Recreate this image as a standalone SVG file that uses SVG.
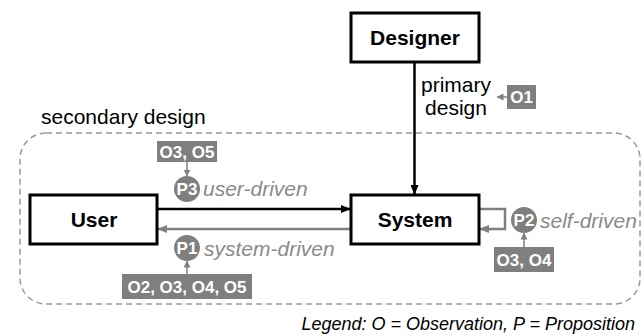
<svg xmlns="http://www.w3.org/2000/svg" width="644" height="336" viewBox="0 0 644 336">
<style>
.box{fill:#fff;stroke:#000;stroke-width:3}
.bt{font-family:"Liberation Sans",Arial,sans-serif;font-weight:bold;font-size:21px;fill:#000;text-anchor:middle}
.rt{font-family:"Liberation Sans",Arial,sans-serif;font-size:21px;fill:#000}
.it{font-family:"Liberation Sans",Arial,sans-serif;font-style:italic;font-size:21px;fill:#8a8a8a}
.tag{fill:#7f7f7f}
.tt{font-family:"Liberation Sans",Arial,sans-serif;font-weight:bold;font-size:17px;fill:#fff;text-anchor:middle}
.pt{font-family:"Liberation Sans",Arial,sans-serif;font-weight:bold;font-size:17px;fill:#fff;text-anchor:middle}
.blk{stroke:#000;stroke-width:2.5;fill:none}
.gry{stroke:#808080;stroke-width:2.5;fill:none}
.thin{stroke:#808080;stroke-width:1.5;fill:none}
</style>
<defs>
<marker id="ab" markerWidth="10" markerHeight="8" refX="9" refY="4" orient="auto" markerUnits="userSpaceOnUse"><path d="M0,0 L10,4 L0,8 Z" fill="#000"/></marker>
<marker id="ag" markerWidth="10" markerHeight="8" refX="9" refY="4" orient="auto" markerUnits="userSpaceOnUse"><path d="M0,0 L10,4 L0,8 Z" fill="#808080"/></marker>
<marker id="as" markerWidth="7" markerHeight="7" refX="6.5" refY="3.5" orient="auto" markerUnits="userSpaceOnUse"><path d="M0,0 L7,3.5 L0,7 Z" fill="#808080"/></marker>
</defs>
<g id="secondary-design">
<rect x="20" y="133" width="620" height="171" rx="26" ry="26" fill="none" stroke="#999" stroke-width="1.5" stroke-dasharray="6,4"/>
<text class="rt" x="41" y="124" font-size="22">secondary design</text>
</g>
<g id="connectors">
<line class="blk" x1="414.5" y1="62" x2="414.5" y2="194" marker-end="url(#ab)"/>
<line class="blk" x1="157" y1="209" x2="350" y2="209" marker-end="url(#ab)"/>
<line class="gry" x1="351" y1="229" x2="158" y2="229" marker-end="url(#ag)"/>
<polyline class="gry" points="479,209 505,209 505,229 480,229" marker-end="url(#ag)"/>
<line class="thin" x1="507" y1="97" x2="497" y2="97" marker-end="url(#as)"/>
<line class="thin" x1="187" y1="162" x2="187" y2="176" marker-end="url(#as)"/>
<line class="thin" x1="187" y1="274" x2="187" y2="261" marker-end="url(#as)"/>
<line class="thin" x1="524" y1="247" x2="524" y2="233" marker-end="url(#as)"/>
</g>
<g id="designer">
<rect class="box" x="351" y="13" width="128" height="49"/>
<text class="bt" x="415" y="45">Designer</text>
</g>
<g id="primary-design-label">
<text class="rt" x="456" y="92" text-anchor="middle">primary</text>
<text class="rt" x="456" y="115" text-anchor="middle">design</text>
</g>
<g id="o1">
<rect class="tag" x="507" y="85" width="29" height="24"/>
<text class="tt" x="521.5" y="103">O1</text>
</g>
<g id="user">
<rect class="box" x="30" y="195" width="127" height="49"/>
<text class="bt" x="94" y="227">User</text>
</g>
<g id="system">
<rect class="box" x="351" y="195" width="128" height="49"/>
<text class="bt" x="415" y="227">System</text>
</g>
<g id="o3o5">
<rect class="tag" x="157" y="141" width="60" height="21"/>
<text class="tt" x="187" y="158">O3, O5</text>
</g>
<g id="p3">
<circle cx="187" cy="189" r="13" fill="#7f7f7f"/>
<text class="pt" x="187" y="195">P3</text>
<text class="it" x="203" y="196">user-driven</text>
</g>
<g id="p1">
<circle cx="187" cy="248" r="13" fill="#7f7f7f"/>
<text class="pt" x="187" y="254">P1</text>
<text class="it" x="204" y="256">system-driven</text>
</g>
<g id="o2o3o4o5">
<rect class="tag" x="122" y="274" width="130" height="25"/>
<text class="tt" x="187" y="293">O2, O3, O4, O5</text>
</g>
<g id="p2">
<circle cx="524" cy="220" r="13" fill="#7f7f7f"/>
<text class="pt" x="524" y="226">P2</text>
<text class="it" x="540" y="228">self-driven</text>
</g>
<g id="o3o4">
<rect class="tag" x="494" y="247" width="60" height="25"/>
<text class="tt" x="524" y="266">O3, O4</text>
</g>
<g id="legend">
<text x="635" y="330" text-anchor="end" font-family="'Liberation Sans',Arial,sans-serif" font-style="italic" font-size="18" fill="#000">Legend: O = Observation, P = Proposition</text>
</g>
</svg>
